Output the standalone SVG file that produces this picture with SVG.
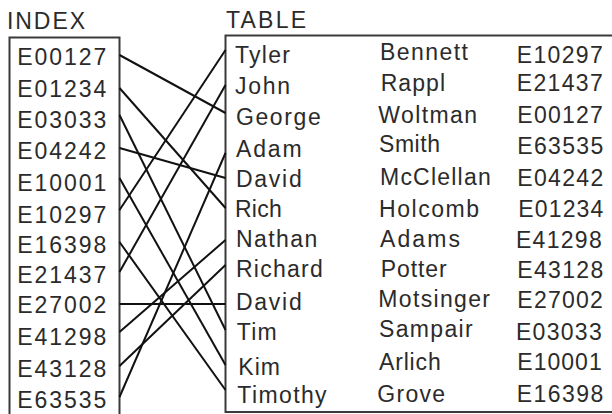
<svg xmlns="http://www.w3.org/2000/svg" width="612" height="414" viewBox="0 0 612 414">
<style>
text{font-family:"Liberation Sans","Helvetica",Arial,sans-serif;font-size:23px;fill:#2b2b2b}
.box{fill:none;stroke:#3a3a3a;stroke-width:2}
.cn line{stroke:#111;stroke-width:2;stroke-linecap:butt}
</style>
<rect width="612" height="414" fill="#fff"/>
<g id="index">
<text x="7" y="29" textLength="78">INDEX</text>
<rect class="box" x="9.5" y="37.5" width="110" height="400"/>
<g id="i-E00127"><text x="17.3" y="65" textLength="89">E00127</text></g>
<g id="i-E01234"><text x="17.3" y="96.5" textLength="89">E01234</text></g>
<g id="i-E03033"><text x="17.3" y="128" textLength="89">E03033</text></g>
<g id="i-E04242"><text x="17.3" y="159.3" textLength="89">E04242</text></g>
<g id="i-E10001"><text x="17.3" y="190.7" textLength="89">E10001</text></g>
<g id="i-E10297"><text x="17.3" y="223" textLength="89">E10297</text></g>
<g id="i-E16398"><text x="17.3" y="253" textLength="89">E16398</text></g>
<g id="i-E21437"><text x="17.3" y="283" textLength="89">E21437</text></g>
<g id="i-E27002"><text x="17.3" y="313" textLength="89">E27002</text></g>
<g id="i-E41298"><text x="17.3" y="345" textLength="89">E41298</text></g>
<g id="i-E43128"><text x="17.3" y="377" textLength="89">E43128</text></g>
<g id="i-E63535"><text x="17.3" y="408" textLength="89">E63535</text></g>
</g>
<g id="table">
<text x="226" y="27.7" textLength="80">TABLE</text>
<rect class="box" x="225.5" y="35.5" width="400" height="376.5"/>
<g id="r-tyler"><text x="235" y="63.3" textLength="55">Tyler</text><text x="380" y="60" textLength="88">Bennett</text><text x="516.7" y="62.7" textLength="86">E10297</text></g>
<g id="r-john"><text x="235" y="94" textLength="55">John</text><text x="380.7" y="90.7" textLength="64.3">Rappl</text><text x="516.7" y="90.7" textLength="86">E21437</text></g>
<g id="r-george"><text x="236" y="125" textLength="84.7">George</text><text x="378.3" y="122.7" textLength="98.7">Woltman</text><text x="517.3" y="123" textLength="85.5">E00127</text></g>
<g id="r-adam"><text x="236" y="156.7" textLength="65.7">Adam</text><text x="379" y="151.7" textLength="61">Smith</text><text x="517.3" y="154" textLength="86">E63535</text></g>
<g id="r-david1"><text x="236" y="186.7" textLength="65.7">David</text><text x="380" y="185" textLength="110.7">McClellan</text><text x="517.3" y="186" textLength="86">E04242</text></g>
<g id="r-rich"><text x="235" y="216.7" textLength="46.7">Rich</text><text x="379" y="216.7" textLength="100">Holcomb</text><text x="518.3" y="216.7" textLength="85">E01234</text></g>
<g id="r-nathan"><text x="236" y="246.7" textLength="81.3">Nathan</text><text x="380" y="246.7" textLength="80">Adams</text><text x="516" y="248" textLength="85.7">E41298</text></g>
<g id="r-richard"><text x="236" y="276.7" textLength="86.7">Richard</text><text x="380.7" y="276.7" textLength="66">Potter</text><text x="517.3" y="278" textLength="86">E43128</text></g>
<g id="r-david2"><text x="236" y="310" textLength="65.7">David</text><text x="378.3" y="306.7" textLength="111.7">Motsinger</text><text x="517.3" y="308" textLength="85.5">E27002</text></g>
<g id="r-tim"><text x="236.7" y="340" textLength="40">Tim</text><text x="379" y="336.7" textLength="93.7">Sampair</text><text x="516" y="340" textLength="85.7">E03033</text></g>
<g id="r-kim"><text x="238.3" y="375" textLength="41.7">Kim</text><text x="379" y="370" textLength="61.7">Arlich</text><text x="517.3" y="370" textLength="84.4">E10001</text></g>
<g id="r-timothy"><text x="237.3" y="403.3" textLength="89.3">Timothy</text><text x="377.3" y="401.7" textLength="67.7">Grove</text><text x="516.7" y="401.7" textLength="86.6">E16398</text></g>
</g>
<g id="connectors" class="cn">
<line x1="119.5" y1="55" x2="225.5" y2="113"/>
<line x1="119.5" y1="88" x2="225.5" y2="208"/>
<line x1="119.5" y1="115" x2="225.5" y2="330"/>
<line x1="119.5" y1="148" x2="225.5" y2="178"/>
<line x1="119.5" y1="178" x2="225.5" y2="365"/>
<line x1="119.5" y1="210" x2="225.5" y2="50"/>
<line x1="119.5" y1="242" x2="225.5" y2="390"/>
<line x1="119.5" y1="272" x2="225.5" y2="85"/>
<line x1="119.5" y1="304" x2="225.5" y2="304"/>
<line x1="119.5" y1="332" x2="225.5" y2="240"/>
<line x1="119.5" y1="366" x2="225.5" y2="265"/>
<line x1="119.5" y1="397" x2="225.5" y2="153"/>
</g>
</svg>
